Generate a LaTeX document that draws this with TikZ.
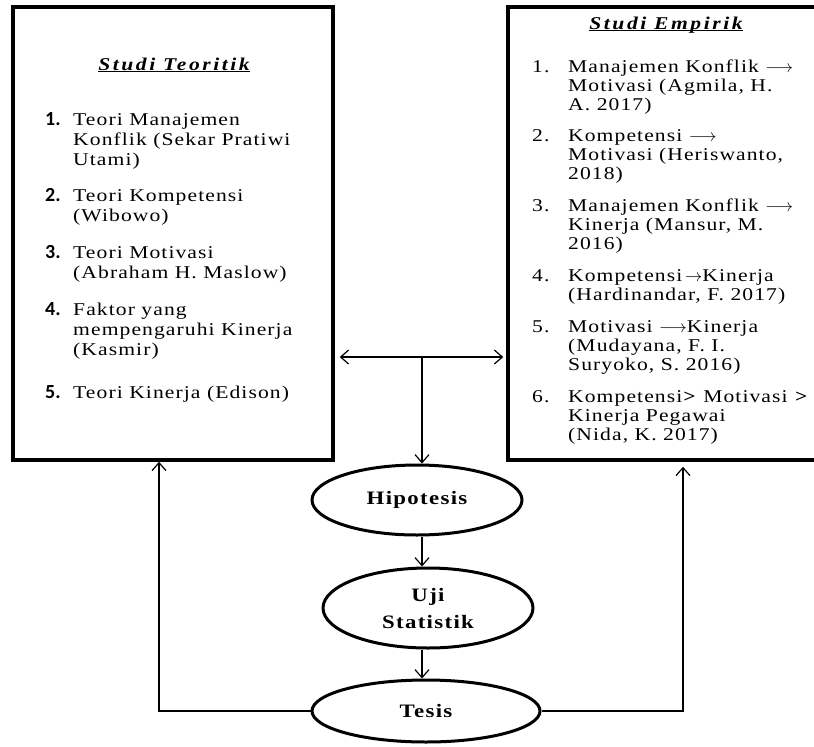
\documentclass[tikz,border=0pt]{standalone}
\usepackage{fontspec}
\setmainfont{Liberation Serif}
\newfontfamily\isifont[LetterSpace=6, FakeStretch=1.2]{Liberation Serif}
\newfontfamily\judulfont[LetterSpace=14, FakeStretch=1.2]{Liberation Serif}
\newfontfamily\elipsfont[LetterSpace=7, FakeStretch=1.2]{Liberation Serif}
\newfontfamily\angkafont{Carlito}
\usetikzlibrary{shapes.geometric}
\usetikzlibrary{positioning}
\usetikzlibrary{arrows.meta}

\begin{document}
\begin{tikzpicture}[x=1pt, y=-1pt, >={Straight Barb[length=8pt,width=14pt]}]
	\tikzset{
		kotak/.style={rectangle, draw=black, line width=3.5pt, inner sep=0pt},
		proses/.style={ellipse, draw=black, line width=3pt, inner sep=0pt, align=center, font=\elipsfont\bfseries\fontsize{19}{27}\selectfont},
		judul/.style={anchor=base, inner sep=0pt, font=\judulfont\bfseries\itshape\fontsize{18}{20}\selectfont},
		isi/.style={anchor=north west, inner sep=0pt},
		garis/.style={draw=black, line width=1.2pt},
	}
	\useasboundingbox (0,0) rectangle (814,747);
	\clip (0,0) rectangle (814,747);

	\node[kotak, minimum width=320pt, minimum height=453pt] (teori) at (173,233.5) {};
	\node[kotak, minimum width=334pt, minimum height=453pt] (empirik) at (675,233.5) {};

	\node[judul] (judulteori) at (174,70) {\underline{\smash{Studi Teoritik}}};
	\node[judul] (judulempirik) at (666,29) {\underline{\smash{Studi Empirik}}};

	\node[isi, font=\isifont\fontsize{18}{20}\selectfont] (isiteori) at (45,111) {%
		\begin{tabular}{@{}p{28pt}@{}l@{}}
			{\angkafont\bfseries\fontsize{20}{20}\selectfont 1.} & Teori Manajemen\\
			& Konflik (Sekar Pratiwi\\
			& Utami)\\[16pt]
			{\angkafont\bfseries\fontsize{20}{20}\selectfont 2.} & Teori Kompetensi\\
			& (Wibowo)\\[17pt]
			{\angkafont\bfseries\fontsize{20}{20}\selectfont 3.} & Teori Motivasi\\
			& (Abraham H. Maslow)\\[17pt]
			{\angkafont\bfseries\fontsize{20}{20}\selectfont 4.} & Faktor yang\\
			& mempengaruhi Kinerja\\
			& (Kasmir)\\[23pt]
			{\angkafont\bfseries\fontsize{20}{20}\selectfont 5.} & Teori Kinerja (Edison)
		\end{tabular}};

	\node[isi, font=\isifont\fontsize{18}{19}\selectfont] (isiempirik) at (532,59) {%
		\begin{tabular}{@{}p{36pt}@{}l@{}}
			1. & Manajemen Konflik $\longrightarrow$\\
			& Motivasi (Agmila, H.\\
			& A. 2017)\\[12pt]
			2. & Kompetensi $\longrightarrow$\\
			& Motivasi (Heriswanto,\\
			& 2018)\\[13pt]
			3. & Manajemen Konflik $\longrightarrow$\\
			& Kinerja (Mansur, M.\\
			& 2016)\\[13pt]
			4. & Kompetensi$\,\rightarrow$Kinerja\\
			& (Hardinandar, F. 2017)\\[13pt]
			5. & Motivasi $\longrightarrow$Kinerja\\
			& (Mudayana, F. I.\\
			& Suryoko, S. 2016)\\[13pt]
			6. & Kompetensi\textbf{>} Motivasi \textbf{>}\\
			& Kinerja Pegawai\\
			& (Nida, K. 2017)
		\end{tabular}};

	\node[proses, minimum width=210pt, minimum height=70pt] (hipo) at (417,500) {Hipotesis};
	\node[proses, minimum width=210pt, minimum height=80pt, below=30pt of hipo, xshift=11pt] (uji) {Uji\\Statistik};
	\node[proses, minimum width=228pt, minimum height=62pt, below=29pt of uji, xshift=-2pt] (tesis) {Tesis};

	\coordinate (tengah) at (422,357);
	\coordinate (kiri) at (159,0);
	\coordinate (kanan) at (683,0);

	\draw[garis, <->, shorten <=5pt, shorten >=3pt] (teori.east |- tengah) -- (empirik.west |- tengah);
	\draw[garis, ->] (tengah) -- (tengah |- hipo.north);
	\draw[garis, ->] (hipo.south -| tengah) -- (uji.north -| tengah);
	\draw[garis, ->] (uji.south -| tengah) -- (tesis.north -| tengah);
	\draw[garis, ->] (tesis.west) -| (kiri |- teori.south);
	\draw[garis, ->, shorten >=5pt] (tesis.east) -| (kanan |- empirik.south);
\end{tikzpicture}
\end{document}
